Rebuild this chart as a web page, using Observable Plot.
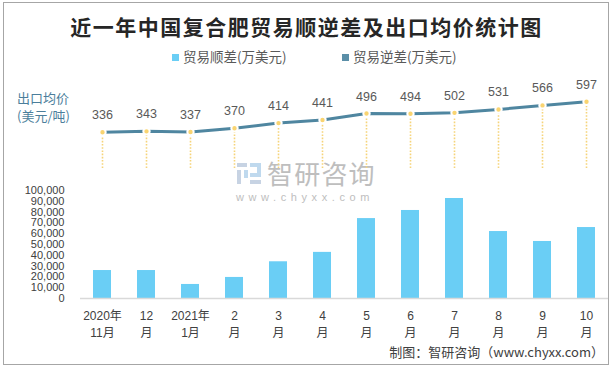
<!DOCTYPE html>
<html><head><meta charset="utf-8">
<script src="https://cdn.jsdelivr.net/npm/d3@7"></script>
<script src="https://cdn.jsdelivr.net/npm/@observablehq/plot@0.6"></script>
<style>
body{margin:0;background:#fff;}
#wrap{position:relative;width:613px;height:368px;overflow:hidden;font-family:"Liberation Sans","Noto Sans CJK SC",sans-serif;}
.abs{position:absolute;white-space:nowrap;}
#border{position:absolute;left:3px;top:2px;width:604px;height:361px;border:1px solid #A6A6A6;}
</style></head>
<body><div id="wrap">
<div id="border"></div>
<div class="abs" style="left:0;width:613px;top:11px;text-align:center;font:700 21px 'Noto Sans CJK SC';letter-spacing:1.5px;color:#262626;">近一年中国复合肥贸易顺逆差及出口均价统计图</div>
<div class="abs" style="left:172px;top:46px;font:13.5px 'Noto Sans CJK SC';color:#595959;"><span style="display:inline-block;width:7px;height:7px;background:#6ACEF5;margin-right:4px;vertical-align:1px;"></span>贸易顺差(万美元)</div>
<div class="abs" style="left:342px;top:46px;font:13.5px 'Noto Sans CJK SC';color:#595959;"><span style="display:inline-block;width:7px;height:7px;background:#5B8FA8;margin-right:4px;vertical-align:1px;"></span>贸易逆差(万美元)</div>
<div class="abs" style="left:17px;top:89px;font:13px 'Noto Sans CJK SC';color:#4B7E9B;line-height:18px;">出口均价<br>(美元/吨)</div>
<div class="abs" style="left:236px;top:160px;">
<svg width="28" height="28"><rect x="1" y="3" width="10" height="4" fill="#C7D3E3"/><rect x="1" y="10" width="4" height="14" fill="#C7D3E3"/><rect x="8" y="10" width="4" height="8" fill="#BFD9EE"/><rect x="14" y="3" width="11" height="4" fill="#BFD9EE"/><rect x="21" y="3" width="4" height="12" fill="#BFD9EE"/><rect x="14" y="13" width="11" height="4" fill="#BFD9EE"/><rect x="14" y="20" width="11" height="4" fill="#C7D3E3"/></svg></div>
<div class="abs" style="left:267px;top:160px;font:26px/25px 'Noto Sans CJK SC';color:#BEBEBE;letter-spacing:1.2px;">智研咨询</div>
<div class="abs" style="left:236px;top:192px;font:11px/11px 'Liberation Sans';color:#BEBEBE;letter-spacing:4.6px;">www.chyxx.com</div>
<div id="line" class="abs" style="left:0;top:80px;"></div>
<div id="bar" class="abs" style="left:0;top:180px;"></div>
<div class="abs" style="right:9px;top:342px;font:13px 'Noto Sans CJK SC';color:#404040;">制图：智研咨询（www.chyxx.com）</div>
</div>
<script>
const months = ["2020年\n11月","12\n月","2021年\n1月","2\n月","3\n月","4\n月","5\n月","6\n月","7\n月","8\n月","9\n月","10\n月"];
const surplus = [25900, 25900, 13000, 19500, 34000, 42700, 74000, 81500, 92600, 62000, 52800, 65700];
const price = [336, 343, 337, 370, 414, 441, 496, 494, 502, 531, 566, 597];
const yTicks = [0,10000,20000,30000,40000,50000,60000,70000,80000,90000,100000];

const rows = months.map((m,i)=>({m, s: surplus[i], p: price[i]}));
const font = "Liberation Sans, Noto Sans CJK SC, sans-serif";
const xScale = {type: "band", domain: months, paddingInner: 0.59, paddingOuter: 0.295};

const lineChart = Plot.plot({
  width: 613, height: 100,
  marginLeft: 80, marginRight: 5, marginTop: 0, marginBottom: 0,
  style: {fontFamily: font, background: "transparent", overflow: "visible"},
  x: {...xScale, axis: null},
  y: {domain: [0, 700], range: [90.8, 9.3], axis: null},
  marks: [
    Plot.ruleX(rows, {x: "m", y1: 24, y2: "p", stroke: "#F6D47A", strokeWidth: 1.6, strokeDasharray: "1.6,1.6"}),
    Plot.line(rows, {x: "m", y: "p", stroke: "#4F86A0", strokeWidth: 3}),
    Plot.dot(rows, {x: "m", y: "p", r: 3.2, fill: "#F9D471", stroke: "white", strokeWidth: 2}),
    Plot.text(rows, {x: "m", y: "p", text: d => String(d.p), dy: -17, fontSize: 12.5, fill: "#595959"})
  ]
});
document.getElementById("line").appendChild(lineChart);

const barChart = Plot.plot({
  width: 613, height: 170,
  marginLeft: 80, marginRight: 5, marginTop: 10, marginBottom: 52,
  style: {fontFamily: font, background: "transparent", overflow: "visible"},
  x: xScale,
  y: {domain: [0, 100000]},
  marks: [
    Plot.barY(rows, {x: "m", y: "s", fill: "#6ACEF5"}),
    Plot.ruleY([0], {stroke: "#D9D9D9", strokeWidth: 1.5}),
    Plot.axisY({ticks: yTicks, tickSize: 0, tickPadding: 16, tickFormat: d3.format(","), fontSize: 11, fill: "#404040", label: null}),
    Plot.axisX({tickSize: 0, tickPadding: 10, fontSize: 12, lineHeight: 1.4, fill: "#404040", label: null})
  ]
});
document.getElementById("bar").appendChild(barChart);
</script>
</body></html>
